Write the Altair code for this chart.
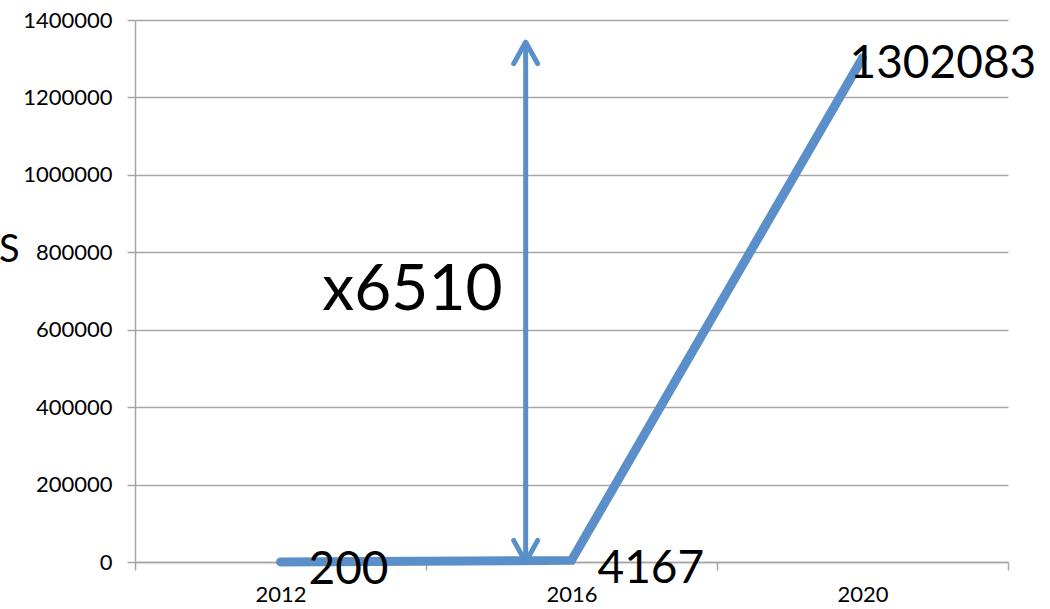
import altair as alt
import pandas as pd

# ---- data ----
years = [2012, 2016, 2020]
values = [200, 4167, 1302083]
value_labels = ["200", "4167", "1302083"]
y_ticks = [0, 200000, 400000, 600000, 800000, 1000000, 1200000, 1400000]
x_ticks = [2010, 2012, 2014, 2016, 2018, 2020, 2022]
arrow_year = [2015.37]
arrow_low = [0]
arrow_high = [1343000]
ratio_text = ["x6510"]
ratio_value = [700000]

FONT = "Lato"
BLUE = "#5b8fc9"
GRID = "#a6a6a6"

df = pd.DataFrame({"year": years, "value": values, "label": value_labels})
arrow_df = pd.DataFrame({"year": arrow_year, "low": arrow_low, "high": arrow_high})
ratio_df = pd.DataFrame({"year": arrow_year, "value": ratio_value, "label": ratio_text})

xscale = alt.Scale(domain=[2010, 2022], nice=False, zero=False)
yscale = alt.Scale(domain=[0, 1400000], nice=False)

xaxis = alt.Axis(
    values=x_ticks, format="d", title=None, grid=False,
    labelExpr="datum.value % 4 == 0 ? datum.label : ''",
    tickOpacity={"condition": {"test": "datum.value % 4 == 2", "value": 1}, "value": 0},
    tickSize=8, tickColor=GRID, tickWidth=1.5,
    domainColor=GRID, domainWidth=1.5,
    labelFont=FONT, labelFontSize=22, labelColor="black", labelPadding=14,
)
yaxis = alt.Axis(
    values=y_ticks, format="d", title=None, grid=True, gridColor=GRID, gridWidth=1.5,
    tickSize=8, tickColor=GRID, tickWidth=1.5,
    domainColor=GRID, domainWidth=1.5,
    labelFont=FONT, labelFontSize=22, labelColor="black", labelPadding=15,
)

base = alt.Chart(df)
line = base.mark_line(color=BLUE, strokeWidth=9, strokeCap="round").encode(
    x=alt.X("year:Q", scale=xscale, axis=xaxis),
    y=alt.Y("value:Q", scale=yscale, axis=yaxis),
)

shaft = alt.Chart(arrow_df).mark_rule(color=BLUE, strokeWidth=5).encode(
    x=alt.X("year:Q", scale=xscale),
    y=alt.Y("low:Q", scale=yscale),
    y2="high:Q",
)
head_up = alt.Chart(arrow_df).mark_point(
    shape="M-1,1.8L0,0L1,1.8", size=576, filled=False, color=BLUE,
    strokeWidth=5, strokeCap="round", strokeJoin="round", opacity=1,
).encode(x=alt.X("year:Q", scale=xscale), y=alt.Y("high:Q", scale=yscale))
head_down = alt.Chart(arrow_df).mark_point(
    shape="M-1,-1.8L0,0L1,-1.8", size=576, filled=False, color=BLUE,
    strokeWidth=5, strokeCap="round", strokeJoin="round", opacity=1,
).encode(x=alt.X("year:Q", scale=xscale), y=alt.Y("low:Q", scale=yscale))

offsets = {2012: (28, 22), 2016: (26, 23), 2020: (-13, 20)}
texts = []
for yr in years:
    dx, dy = offsets[yr]
    texts.append(
        base.transform_filter(alt.datum.year == yr).mark_text(
            font=FONT, fontSize=46, color="black", align="left",
            baseline="alphabetic", dx=dx, dy=dy,
        ).encode(x=alt.X("year:Q", scale=xscale), y=alt.Y("value:Q", scale=yscale), text="label:N")
    )

ratio = alt.Chart(ratio_df).mark_text(
    font=FONT, fontSize=64, color="black", align="right", baseline="alphabetic", dx=-23, dy=19,
).encode(x=alt.X("year:Q", scale=xscale), y=alt.Y("value:Q", scale=yscale), text="label:N")

side = alt.Chart(ratio_df).mark_text(
    font=FONT, fontSize=38, color="black", align="left", baseline="alphabetic",
).encode(x=alt.value(-136), y=alt.value(242), text=alt.value("S"))

chart = alt.layer(line, shaft, head_up, head_down, *texts, ratio, side).properties(
    width=873, height=542,
    padding={"left": 135, "top": 20, "right": 42, "bottom": 47},
    autosize=alt.AutoSizeParams(type="none"),
    background="white",
).configure_view(stroke=None)

chart.save("out.html", embed_options={"renderer": "svg", "actions": False})
